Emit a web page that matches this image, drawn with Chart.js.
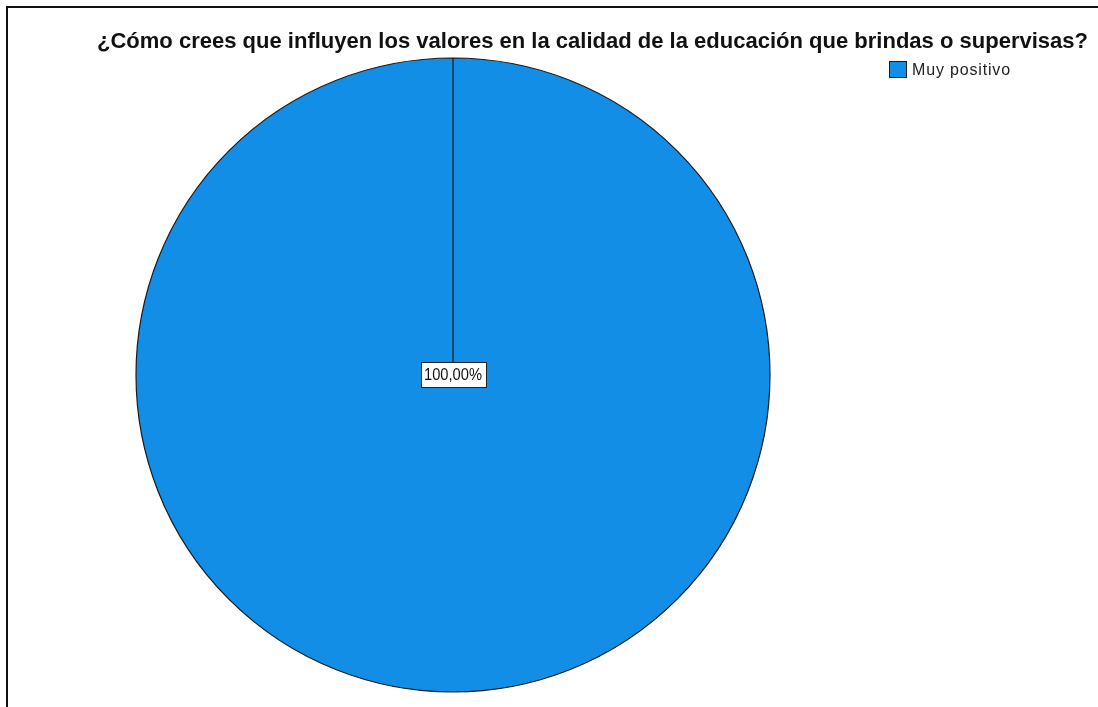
<!DOCTYPE html>
<html>
<head>
<meta charset="utf-8">
<script src="https://cdn.jsdelivr.net/npm/chart.js@4/dist/chart.umd.min.js"></script>
<style>
html,body{margin:0;padding:0;background:#fff;overflow:hidden;}
canvas{display:block;}
</style>
</head>
<body>
<canvas id="c" width="1098" height="707"></canvas>
<script>
const titleText = "¿Cómo crees que influyen los valores en la calidad de la educación que brindas o supervisas?";
const categories = ["Muy positivo"];
const percentages = [100];
const valueLabels = ["100,00%"];
const sliceColors = ["#128EE6"];

const NARROW = "'Liberation Sans Narrow', 'Liberation Sans', Arial, sans-serif";

const decor = {
  id: 'decor',
  afterDraw(chart) {
    const ctx = chart.ctx;
    ctx.save();
    // frame
    ctx.strokeStyle = '#111';
    ctx.lineWidth = 2;
    ctx.beginPath();
    ctx.moveTo(7, 720); ctx.lineTo(7, 7); ctx.lineTo(1110, 7);
    ctx.stroke();
    // title
    ctx.fillStyle = '#111';
    ctx.font = "bold 18px 'Liberation Sans', Arial, sans-serif";
    let w = ctx.measureText(titleText).width;
    let fs = 18 * 991 / w;
    ctx.font = "bold " + fs.toFixed(2) + "px 'Liberation Sans', Arial, sans-serif";
    ctx.textBaseline = 'alphabetic';
    ctx.textAlign = 'left';
    ctx.fillText(titleText, 97, 48);
    // legend
    categories.forEach((cat, i) => {
      const y = 61 + i * 20;
      ctx.fillStyle = sliceColors[i];
      ctx.fillRect(889.5, y + 0.5, 17, 16);
      ctx.strokeStyle = '#1a1a1a';
      ctx.lineWidth = 1;
      ctx.strokeRect(889.5, y + 0.5, 17, 16);
      ctx.fillStyle = '#222';
      ctx.font = "16px " + NARROW;
      const tw = ctx.measureText(cat).width;
      const ls = (98 - tw) / (cat.length - 1);
      if (ls >= 0) {
        ctx.letterSpacing = ls.toFixed(2) + 'px';
        ctx.fillText(cat, 912, y + 14);
        ctx.letterSpacing = '0px';
      } else {
        ctx.fillText(cat, 912, y + 14, 98);
      }
    });
    // value label box
    const meta = chart.getDatasetMeta(0);
    meta.data.forEach((arc, i) => {
      const cx = arc.x, cy = arc.y;
      ctx.font = "16px " + NARROW;
      const txt = valueLabels[i];
      const bw = 65, bh = 25;
      const bx = Math.round(cx - bw / 2) + 0.5, by = Math.round(cy - 13) + 0.5;
      ctx.fillStyle = '#fff';
      ctx.fillRect(bx, by, bw, bh);
      ctx.strokeStyle = '#222';
      ctx.lineWidth = 1;
      ctx.strokeRect(bx, by, bw, bh);
      ctx.fillStyle = '#111';
      ctx.textAlign = 'center';
      ctx.textBaseline = 'middle';
      ctx.fillText(txt, cx, by + bh / 2 + 0.5, 58);
    });
    ctx.restore();
  }
};

new Chart(document.getElementById('c'), {
  type: 'pie',
  data: {
    labels: categories,
    datasets: [{
      data: percentages,
      backgroundColor: sliceColors,
      borderColor: '#1a1a1a',
      borderWidth: 1.2,
      radius: 317
    }]
  },
  options: {
    responsive: false,
    animation: false,
    layout: { padding: { left: 0, right: 192, top: 43, bottom: 0 } },
    plugins: {
      legend: { display: false },
      title: { display: false },
      tooltip: { enabled: false }
    }
  },
  plugins: [decor]
});
</script>
</body>
</html>
